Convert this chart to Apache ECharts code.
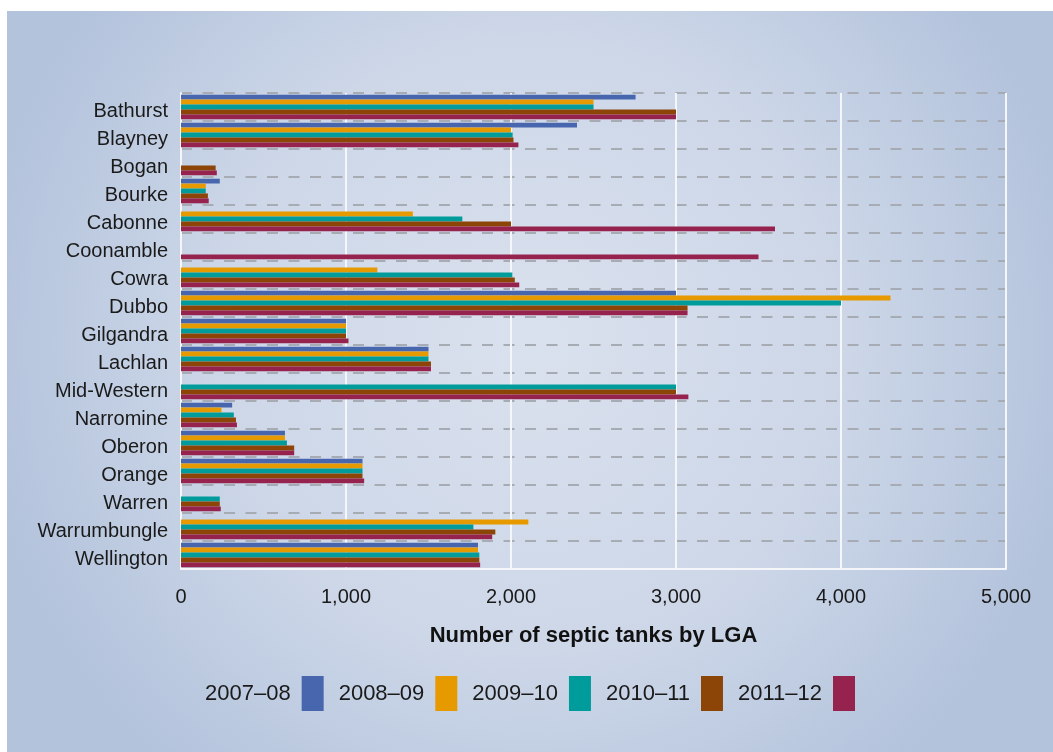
<!DOCTYPE html>
<html>
<head>
<meta charset="utf-8">
<script src="https://cdn.jsdelivr.net/npm/echarts@6/dist/echarts.min.js"></script>
<style>
  html, body { margin: 0; padding: 0; background: #ffffff; }
  #chart { position: absolute; left: 7px; top: 11px; width: 1046px; height: 741px; }
</style>
</head>
<body>
<div id="chart"></div>
<script>
// LGA names, top to bottom
var lgas = [
  "Bathurst", "Blayney", "Bogan", "Bourke", "Cabonne", "Coonamble", "Cowra",
  "Dubbo", "Gilgandra", "Lachlan", "Mid-Western", "Narromine", "Oberon",
  "Orange", "Warren", "Warrumbungle", "Wellington"
];
var years = ["2007–08", "2008–09", "2009–10", "2010–11", "2011–12"];
var colors = ["#4766ae", "#e69a00", "#009b9b", "#8c4407", "#95234d"];

// number of septic tanks
var y0708 = [2755, 2400, null, 235, null, null, null, 3000, 1000, 1500, null, 310, 630, 1100, null, null, 1800];
var y0809 = [2500, 2000, null, 150, 1405, null, 1190, 4300, 1000, 1500, null, 245, 630, 1100, null, 2105, 1800];
var y0910 = [2500, 2010, null, 150, 1705, null, 2008, 4000, 1000, 1500, 3000, 320, 642, 1100, 235, 1772, 1808];
var y1011 = [3000, 2015, 210, 163, 2000, null, 2023, 3070, 1000, 1515, 3000, 333, 686, 1100, 235, 1905, 1808];
var y1112 = [3000, 2045, 217, 168, 3600, 3500, 2050, 3070, 1015, 1515, 3075, 339, 686, 1110, 241, 1886, 1813];

var valueTicks = [0, 1000, 2000, 3000, 4000, 5000];

var seriesValues = [y0708, y0809, y0910, y1011, y1112];
var font = "'Liberation Sans', Arial, sans-serif";

var chart = echarts.init(document.getElementById("chart"));
chart.setOption({
  backgroundColor: {
    type: "radial",
    x: 0.5, y: 0.45, r: 0.75,
    colorStops: [
      { offset: 0, color: "#dae1ee" },
      { offset: 0.55, color: "#cdd7e8" },
      { offset: 1, color: "#b3c3dc" }
    ]
  },
  color: colors,
  textStyle: { fontFamily: font },
  grid: { left: 174, right: 47, top: 82, bottom: 183 },
  legend: {
    data: years,
    left: "center",
    top: 660,
    align: "right",
    itemWidth: 22,
    itemHeight: 35,
    itemGap: 15,
    icon: "rect",
    textStyle: { fontSize: 22, color: "#1a1a1a", fontFamily: font, padding: [0, 6, 0, 0] }
  },
  xAxis: {
    type: "value",
    min: valueTicks[0],
    max: valueTicks[valueTicks.length - 1],
    interval: 1000,
    name: "Number of septic tanks by LGA",
    nameLocation: "middle",
    nameGap: 56,
    nameTextStyle: { fontSize: 22, fontWeight: "bold", color: "#111", fontFamily: font },
    axisLine: { show: true, lineStyle: { color: "#f4f6fa", width: 2 } },
    axisTick: { show: false },
    axisLabel: {
      fontSize: 20,
      color: "#1a1a1a",
      margin: 18,
      formatter: function (v) { return v.toLocaleString("en-US"); }
    },
    splitLine: { show: true, lineStyle: { color: "#f4f6fa", width: 2 } }
  },
  yAxis: {
    type: "category",
    data: lgas,
    inverse: true,
    axisLine: { show: true, lineStyle: { color: "#f4f6fa", width: 2 } },
    axisTick: { show: false },
    axisLabel: {
      margin: 13,
      formatter: function (v) { return "{n|" + v + "}"; },
      rich: {
        n: { fontSize: 20, color: "#1a1a1a", fontFamily: font, padding: [9, 0, 0, 0] }
      }
    },
    splitLine: {
      show: true,
      lineStyle: { color: "#a7abb3", width: 2, type: [11, 10.5] }
    }
  },
  series: years.map(function (name, i) {
    return {
      name: name,
      type: "bar",
      data: seriesValues[i],
      barGap: "0%",
      barCategoryGap: "12%",
      itemStyle: { color: colors[i] }
    };
  })
});
</script>
</body>
</html>
